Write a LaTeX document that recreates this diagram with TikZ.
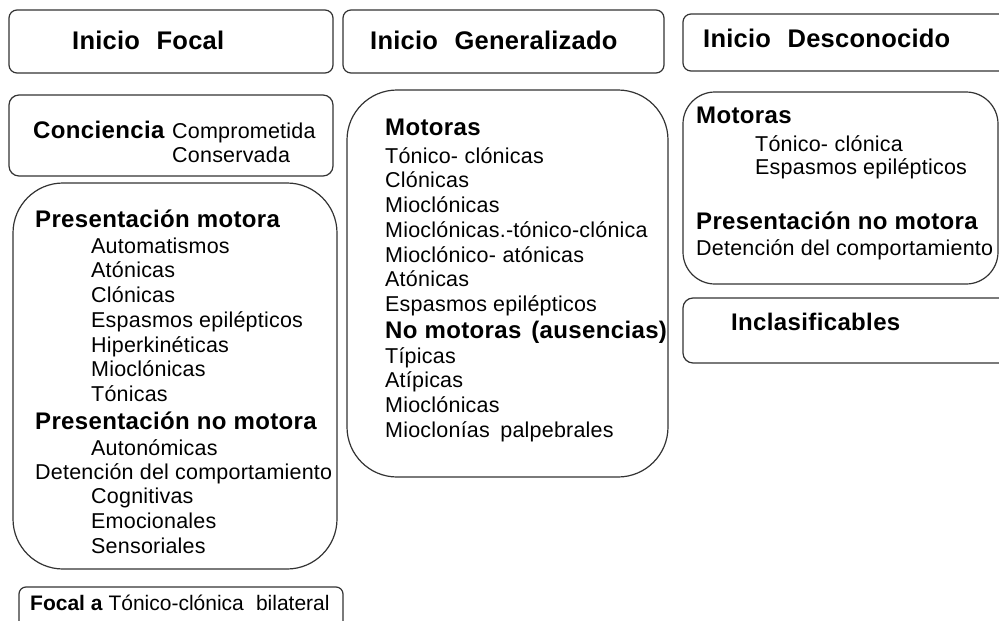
\documentclass[tikz,border=0pt]{standalone}
\usepackage{fontspec}
\setmainfont{Liberation Sans}
\begin{document}
\begin{tikzpicture}[x=1pt,y=-1pt,
  box/.style={draw=black!80, line width=1.2pt, rounded corners=#1, inner sep=0pt, fill=none},
  box/.default=8pt,
  top/.style={anchor=base west, inner sep=0pt, font=\fontsize{25.5}{30}\selectfont\bfseries\addfontfeature{LetterSpace=1}},
  head/.style={anchor=base west, inner sep=0pt, font=\fontsize{24}{27}\selectfont\bfseries\addfontfeature{LetterSpace=1.5}},
  item/.style={anchor=base west, inner sep=0pt, font=\fontsize{21.5}{25}\selectfont\addfontfeature{LetterSpace=1}},
  small/.style={anchor=base west, inner sep=0pt, font=\fontsize{21}{25}\selectfont}]
\useasboundingbox (0,0) rectangle (999,621);
\clip (0,0) rectangle (999,621);
\fill[white] (0,0) rectangle (999,621);
% boxes
\node[box, minimum width=324pt, minimum height=63pt] (b1) at (171,41.5) {};
\node[box, minimum width=321pt, minimum height=63pt] (b2) at (503.5,41.5) {};
\node[box, minimum width=332pt, minimum height=57pt] (b3) at (849,42.5) {};
\node[box=10pt, minimum width=324pt, minimum height=81pt] (b4) at (171,135.5) {};
\node[box=50pt, minimum width=324pt, minimum height=386pt] (b5) at (175,376) {};
\node[box=50pt, minimum width=321pt, minimum height=387pt] (b6) at (507.5,283.5) {};
\node[box=32pt, minimum width=315pt, minimum height=192pt] (b7) at (840.5,188) {};
\node[box=10pt, minimum width=332pt, minimum height=65pt] (b8) at (849,330.5) {};
\node[box=7pt, minimum width=324pt, minimum height=53pt] (b9) at (181,613.5) {};
% top headings
\node[top] (t1) at (72,49) {Inicio\hspace{0.65em}Focal};
\node[top] (t2) at (370,49) {Inicio\hspace{0.65em}Generalizado};
\node[top] (t3) at (703,47) {Inicio\hspace{0.65em}Desconocido};
% conciencia
\node[head] (c0) at (33,138) {Conciencia};
\node[item] (c1) at (172,138) {Comprometida};
\node[item] (c2) at (172,162) {Conservada};
% focal list
\node[head] (f0) at (35,227) {Presentación motora};
\node[item] (f1) at (91,253) {Automatismos};
\node[item] (f2) at (91,277) {Atónicas};
\node[item] (f3) at (91,302) {Clónicas};
\node[item] (f4) at (91,327) {Espasmos epilépticos};
\node[item] (f5) at (91,352) {Hiperkinéticas};
\node[item] (f6) at (91,376) {Mioclónicas};
\node[item] (f7) at (91,401) {Tónicas};
\node[head] (f8) at (35,429) {Presentación no motora};
\node[item] (f9) at (91,455) {Autonómicas};
\node[item] (f10) at (35,479) {Detención del comportamiento};
\node[item] (f11) at (91,503) {Cognitivas};
\node[item] (f12) at (91,528) {Emocionales};
\node[item] (f13) at (91,553) {Sensoriales};
% generalizado list
\node[head] (g0) at (385,135) {Motoras};
\node[item] (g1) at (385,163) {Tónico-\hspace{0.3em}clónicas};
\node[item] (g2) at (385,187) {Clónicas};
\node[item] (g3) at (385,212) {Mioclónicas};
\node[item] (g4) at (385,237) {Mioclónicas.-tónico-clónica};
\node[item] (g5) at (385,262) {Mioclónico-\hspace{0.3em}atónicas};
\node[item] (g6) at (385,286) {Atónicas};
\node[item] (g7) at (385,311) {Espasmos epilépticos};
\node[head] (g8) at (385,338) {No motoras\hspace{0.12em} (ausencias)};
\node[item] (g9) at (385,363) {Típicas};
\node[item] (g10) at (385,387) {Atípicas};
\node[item] (g11) at (385,412) {Mioclónicas};
\node[item] (g12) at (385,437) {Mioclonías\hspace{0.2em} palpebrales};
% desconocido list
\node[head] (d0) at (696,123) {Motoras};
\node[item] (d1) at (755,151) {Tónico-\hspace{0.3em}clónica};
\node[item] (d2) at (755,174) {Espasmos epilépticos};
\node[head] (d3) at (696,229) {Presentación no motora};
\node[item] (d4) at (696,255) {Detención del comportamiento};
\node[head] (i0) at (731,330) {Inclasificables};
% bottom
\node[small] (z0) at (30,610) {\textbf{Focal a} Tónico-clónica\hspace{0.3em} bilateral};
\end{tikzpicture}
\end{document}
